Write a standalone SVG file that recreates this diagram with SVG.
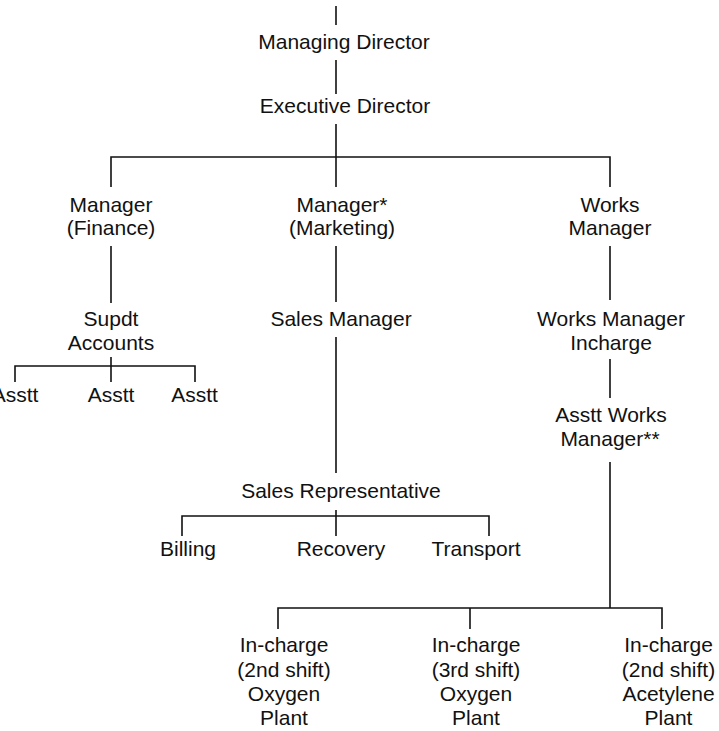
<svg xmlns="http://www.w3.org/2000/svg" width="719" height="731" viewBox="0 0 719 731">
  <style>
    .bg { fill: #ffffff; }
    .lbl { font-family: "Liberation Sans", Arial, Helvetica, sans-serif; font-size: 21px; fill: #111111; text-anchor: middle; }
    .wire { fill: none; stroke: #111111; stroke-width: 1.6; stroke-linecap: butt; }
  </style>
  <rect class="bg" x="0" y="0" width="719" height="731"/>

  <!-- connectors -->
  <g id="connectors" class="wire">
    <path d="M336 6V25"/>
    <path d="M336 60V94"/>
    <path d="M336 124V187"/>
    <path d="M111 187V157H610V187"/>
    <!-- finance branch -->
    <path d="M111 246V303"/>
    <path d="M111 357V382"/>
    <path d="M15 382V366H195V382"/>
    <!-- marketing branch -->
    <path d="M336 246V302"/>
    <path d="M336 337V473"/>
    <path d="M336 510V536"/>
    <path d="M182 536V516H489V536"/>
    <!-- works branch -->
    <path d="M610 246V300"/>
    <path d="M610 359V398"/>
    <path d="M610 462V608"/>
    <path d="M278 629V608H662V629"/>
    <path d="M470 608V629"/>
  </g>

  <g id="managing-director"><text class="lbl" x="344" y="49">Managing Director</text></g>
  <g id="executive-director"><text class="lbl" x="345" y="113">Executive Director</text></g>

  <g id="manager-finance">
    <text class="lbl" x="111" y="211.5">Manager</text>
    <text class="lbl" x="111" y="235">(Finance)</text>
  </g>
  <g id="manager-marketing">
    <text class="lbl" x="342" y="211.5">Manager*</text>
    <text class="lbl" x="342" y="235">(Marketing)</text>
  </g>
  <g id="works-manager">
    <text class="lbl" x="610" y="211.5">Works</text>
    <text class="lbl" x="610" y="235">Manager</text>
  </g>

  <g id="supdt-accounts">
    <text class="lbl" x="111" y="326">Supdt</text>
    <text class="lbl" x="111" y="350">Accounts</text>
  </g>
  <g id="asstt-1"><text class="lbl" x="15" y="401.5">Asstt</text></g>
  <g id="asstt-2"><text class="lbl" x="111" y="401.5">Asstt</text></g>
  <g id="asstt-3"><text class="lbl" x="194.5" y="401.5">Asstt</text></g>

  <g id="sales-manager"><text class="lbl" x="341" y="326">Sales Manager</text></g>
  <g id="sales-representative"><text class="lbl" x="341" y="498">Sales Representative</text></g>
  <g id="billing"><text class="lbl" x="188" y="556">Billing</text></g>
  <g id="recovery"><text class="lbl" x="341" y="556">Recovery</text></g>
  <g id="transport"><text class="lbl" x="476" y="556">Transport</text></g>

  <g id="works-manager-incharge">
    <text class="lbl" x="611" y="326">Works Manager</text>
    <text class="lbl" x="611" y="349.5">Incharge</text>
  </g>
  <g id="asstt-works-manager">
    <text class="lbl" x="611" y="421.5">Asstt Works</text>
    <text class="lbl" x="610" y="446">Manager**</text>
  </g>

  <g id="incharge-oxygen-2nd">
    <text class="lbl" x="284" y="651.5">In-charge</text>
    <text class="lbl" x="284" y="676.5">(2nd shift)</text>
    <text class="lbl" x="284" y="700.5">Oxygen</text>
    <text class="lbl" x="284" y="725">Plant</text>
  </g>
  <g id="incharge-oxygen-3rd">
    <text class="lbl" x="476" y="651.5">In-charge</text>
    <text class="lbl" x="476" y="676.5">(3rd shift)</text>
    <text class="lbl" x="476" y="700.5">Oxygen</text>
    <text class="lbl" x="476" y="725">Plant</text>
  </g>
  <g id="incharge-acetylene-2nd">
    <text class="lbl" x="668.5" y="651.5">In-charge</text>
    <text class="lbl" x="668.5" y="676.5">(2nd shift)</text>
    <text class="lbl" x="668.5" y="700.5">Acetylene</text>
    <text class="lbl" x="668.5" y="725">Plant</text>
  </g>
</svg>
